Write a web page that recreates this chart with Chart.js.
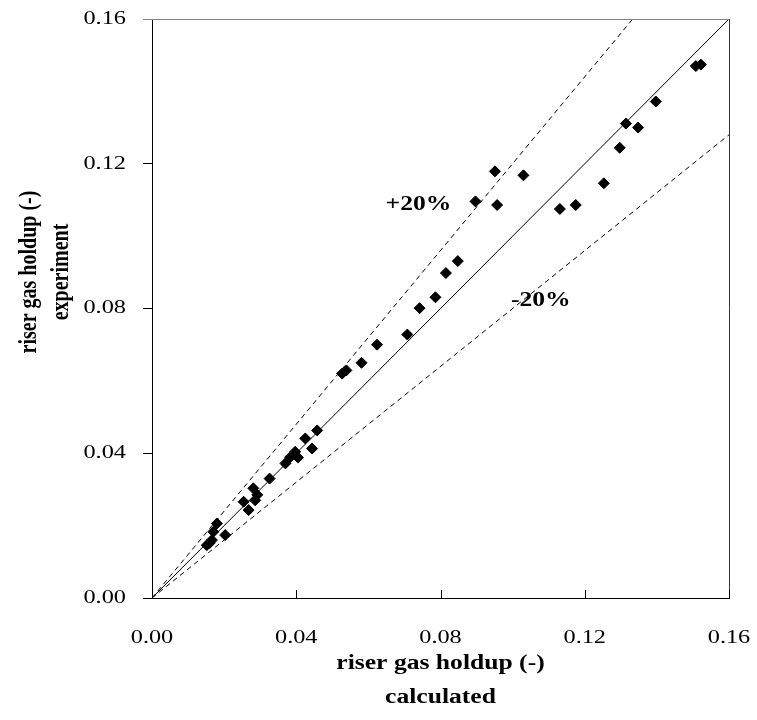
<!DOCTYPE html>
<html>
<head>
<meta charset="utf-8">
<script src="https://cdn.jsdelivr.net/npm/chart.js@4.4.1/dist/chart.umd.min.js"></script>
<style>
  html, body { margin: 0; padding: 0; background: #fff; }
  #wrap { width: 757px; height: 720px; }
</style>
</head>
<body>
<div id="wrap"><canvas id="holdupChart" width="757" height="720"></canvas></div>
<script>
// Riser gas holdup: calculated (x) vs experiment (y)
const calcHoldup = [
  0.0152, 0.0160, 0.0166, 0.0170, 0.0180, 0.0203,
  0.0254, 0.0268, 0.0286, 0.0281, 0.0292,
  0.0326, 0.0370, 0.0383, 0.0397, 0.0405, 0.0444, 0.0425, 0.0458,
  0.0527, 0.0539, 0.0581, 0.0624, 0.0708, 0.0742, 0.0786, 0.0815, 0.0848,
  0.0897, 0.0951, 0.0957, 0.1030, 0.1131, 0.1175, 0.1253,
  0.1297, 0.1314, 0.1348, 0.1397, 0.1508, 0.1522
];
const exptHoldup = [
  0.0146, 0.0152, 0.0160, 0.0183, 0.0206, 0.0174,
  0.0266, 0.0243, 0.0270, 0.0303, 0.0285,
  0.0330, 0.0372, 0.0389, 0.0404, 0.0388, 0.0413, 0.0441, 0.0463,
  0.0620, 0.0629, 0.0650, 0.0700, 0.0728, 0.0801, 0.0831, 0.0898, 0.0931,
  0.1096, 0.1179, 0.1086, 0.1168, 0.1075, 0.1086, 0.1146,
  0.1244, 0.1311, 0.1300, 0.1372, 0.1470, 0.1474
];

// reference lines (parity and +/-20 %)
const parityX = [0, 0.16];
const parityY = [0, 0.16];
const plus20X = [0, 0.1333];
const plus20Y = [0, 0.16];
const minus20X = [0, 0.16];
const minus20Y = [0, 0.128];

// axis ticks
const tickValues = [0, 0.04, 0.08, 0.12, 0.16];
const tickLabels = ['0.00', '0.04', '0.08', '0.12', '0.16'];

const SERIF = "'Liberation Serif', 'Times New Roman', serif";
const STRETCH = 1.28; // the original text is drawn wide

function toPoints(xs, ys) {
    return xs.map((x, i) => ({ x: x, y: ys[i] }));
}

// draw text widened horizontally, optionally rotated (for the y title)
function wideText(ctx, text, x, y, font, align, rotated) {
    ctx.save();
    ctx.font = font;
    ctx.fillStyle = '#000';
    ctx.textAlign = align;
    ctx.textBaseline = 'middle';
    ctx.translate(x, y);
    ctx.scale(STRETCH, 1);
    if (rotated) ctx.rotate(-Math.PI / 2);
    ctx.fillText(text, 0, 0);
    ctx.restore();
}

const decorPlugin = {
    id: 'decor',
    afterDraw(chart) {
        const ctx = chart.ctx;
        const xs = chart.scales.x;
        const ys = chart.scales.y;
        const area = chart.chartArea;

        // frame: top (grey) and right
        ctx.save();
        ctx.lineWidth = 1;
        ctx.strokeStyle = '#808080';
        ctx.beginPath();
        ctx.moveTo(area.left - 9, Math.round(area.top) + 0.5);
        ctx.lineTo(area.right, Math.round(area.top) + 0.5);
        ctx.stroke();
        ctx.strokeStyle = '#333';
        ctx.beginPath();
        ctx.moveTo(Math.round(area.right) + 0.5, area.top);
        ctx.lineTo(Math.round(area.right) + 0.5, area.bottom);
        ctx.stroke();

        // x ticks point inward
        ctx.strokeStyle = '#000';
        tickValues.forEach(v => {
            const px = Math.round(xs.getPixelForValue(v)) + 0.5;
            ctx.beginPath();
            ctx.moveTo(px, area.bottom);
            ctx.lineTo(px, area.bottom - 8);
            ctx.stroke();
        });
        ctx.restore();

        // tick labels
        const tickFont = '19px ' + SERIF;
        tickValues.forEach((v, i) => {
            wideText(ctx, tickLabels[i], xs.getPixelForValue(v), 638, tickFont, 'center');
            wideText(ctx, tickLabels[i], 126, ys.getPixelForValue(v), tickFont, 'right');
        });

        // axis titles
        const titleFont = 'bold 20px ' + SERIF;
        const midX = (area.left + area.right) / 2;
        wideText(ctx, 'riser gas holdup (-)', midX, 664, titleFont, 'center');
        wideText(ctx, 'calculated', midX, 698, titleFont, 'center');
        wideText(ctx, 'riser gas holdup (-)', 29, 272, titleFont, 'center', true);
        wideText(ctx, 'experiment', 61, 272, titleFont, 'center', true);

        // band labels
        wideText(ctx, '+20%', xs.getPixelForValue(0.0739), ys.getPixelForValue(0.1087), titleFont, 'center');
        wideText(ctx, '-20%', xs.getPixelForValue(0.1078), ys.getPixelForValue(0.0822), titleFont, 'center');
    }
};

const lineStyle = {
    showLine: true,
    pointRadius: 0,
    borderColor: '#000',
    borderWidth: 1,
    fill: false,
    order: 2
};

const holdupChart = new Chart(document.getElementById('holdupChart'), {
    type: 'scatter',
    data: {
        datasets: [
            {
                label: 'data',
                data: toPoints(calcHoldup, exptHoldup),
                pointStyle: 'rectRot',
                pointRadius: 5.5,
                backgroundColor: '#000',
                borderColor: '#000',
                borderWidth: 1,
                order: 1
            },
            Object.assign({ label: 'parity', data: toPoints(parityX, parityY) }, lineStyle),
            Object.assign({ label: '+20%', data: toPoints(plus20X, plus20Y), borderDash: [5, 4] }, lineStyle),
            Object.assign({ label: '-20%', data: toPoints(minus20X, minus20Y), borderDash: [5, 4] }, lineStyle)
        ]
    },
    options: {
        responsive: false,
        animation: false,
        layout: { padding: { left: 0, right: 28, top: 19, bottom: 0 } },
        plugins: {
            legend: { display: false },
            tooltip: { enabled: false }
        },
        scales: {
            x: {
                type: 'linear',
                min: 0,
                max: 0.16,
                ticks: { stepSize: 0.04, display: false },
                grid: { drawOnChartArea: false, drawTicks: false },
                border: { color: '#000', width: 1 },
                afterFit: s => { s.height = 122; }
            },
            y: {
                type: 'linear',
                min: 0,
                max: 0.16,
                ticks: { stepSize: 0.04, display: false },
                grid: { drawOnChartArea: false, drawTicks: true, tickLength: 9, color: '#000' },
                border: { color: '#000', width: 1 },
                afterFit: s => { s.width = 152; }
            }
        }
    },
    plugins: [decorPlugin]
});
</script>
</body>
</html>
